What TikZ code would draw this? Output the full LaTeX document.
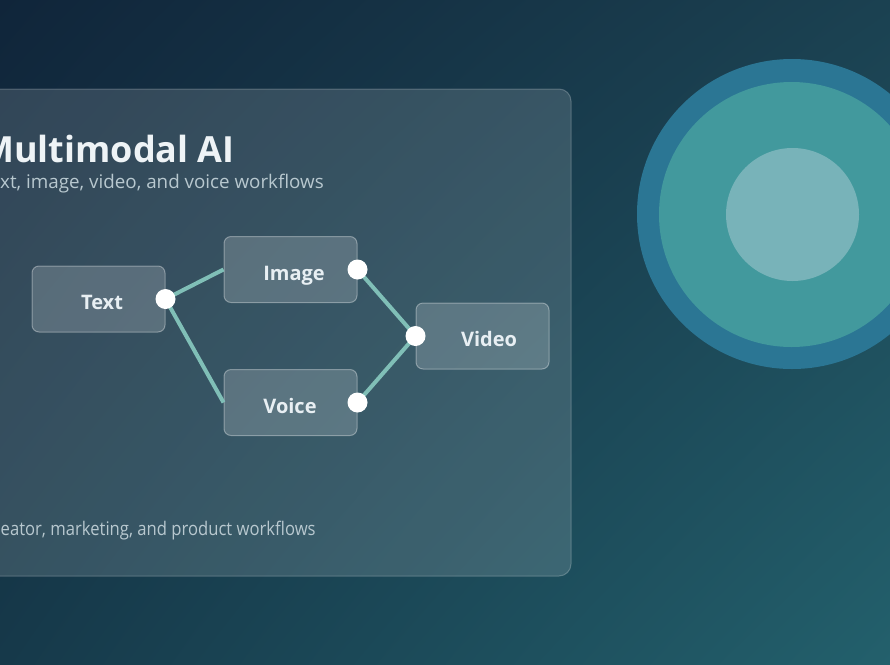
\documentclass[tikz,border=0pt]{standalone}
\usepackage{fontspec}
\setmainfont{Open Sans}
\usetikzlibrary{shadings}
\begin{document}
\begin{tikzpicture}[x=1pt,y=-1pt,
  box/.style={draw=white,draw opacity=0.35,fill=white,fill opacity=0.18,text opacity=1,
    rounded corners=7pt,minimum width=133pt,minimum height=66pt,line width=1pt},
  lbl/.style={text=labelc,font=\fontsize{20}{24}\selectfont\bfseries,inner sep=0pt,anchor=base},
  link/.style={draw=linkc,line width=4pt},
  dotn/.style={circle,fill=white,minimum size=20pt,inner sep=0pt}]
\definecolor{bgTL}{HTML}{10253A}
\definecolor{bgTR}{HTML}{1B4151}
\definecolor{bgBL}{HTML}{16394A}
\definecolor{bgBR}{HTML}{23606C}
\definecolor{linkc}{HTML}{80BFB7}
\definecolor{labelc}{HTML}{E8EFF3}
\definecolor{titlec}{HTML}{EEF3F6}
\definecolor{subc}{HTML}{B8C8CF}
\definecolor{ringA}{HTML}{2B7694}
\definecolor{ringB}{HTML}{42999D}
\definecolor{ringC}{HTML}{78B3B9}
\useasboundingbox (0,0) rectangle (890,664);
\clip (0,0) rectangle (890,664);
\shade[upper left=bgTL,upper right=bgTR,lower left=bgBL,lower right=bgBR] (0,0) rectangle (890,664);
% card
\path[fill=white,fill opacity=0.14,draw=white,draw opacity=0.22,line width=1pt,rounded corners=12pt]
  (-40,89) rectangle (571,576);
% title texts
\node[anchor=base east,inner sep=0pt,text=titlec,font=\fontsize{36}{42}\selectfont\bfseries] (title) at (235,162) {Multimodal AI};
\node[anchor=base east,inner sep=0pt,text=subc,font=\fontsize{18.8}{22}\selectfont] (sub) at (324,188) {xt, image, video, and voice workflows};
\node[anchor=base west,inner sep=0pt,text=subc,font=\fontsize{18.8}{22}\selectfont] (foot) at (0.5,535) {\scalebox{0.885}[1]{eator, marketing, and product workflows}};
% boxes
\node[box] (tx) at (98.5,299) {};
\node[box] (im) at (290.5,269.5) {};
\node[box] (vo) at (290.5,402.5) {};
\node[box] (vi) at (482.5,336) {};
\node[lbl] (ltx) at (102,309) {Text};
\node[lbl] (lim) at (294,280) {Image};
\node[lbl] (lvo) at (290,413) {Voice};
\node[lbl] (lvi) at (489,346) {Video};
% links
\draw[link] (tx.east) -- (im.west);
\draw[link] (tx.east) -- (vo.west);
\draw[link] (im.east) -- (vi.west);
\draw[link] (vo.east) -- (vi.west);
% dots
\node[dotn] (dtx) at (tx.east) {};
\node[dotn] (dim) at (im.east) {};
\node[dotn] (dvo) at (vo.east) {};
\node[dotn] (dvi) at (vi.west) {};
% rings
\fill[ringA] (792,214) circle (155);
\fill[ringB] (791.5,214.5) circle (132.5);
\fill[ringC] (792.5,214.5) circle (66.5);
\end{tikzpicture}
\end{document}
